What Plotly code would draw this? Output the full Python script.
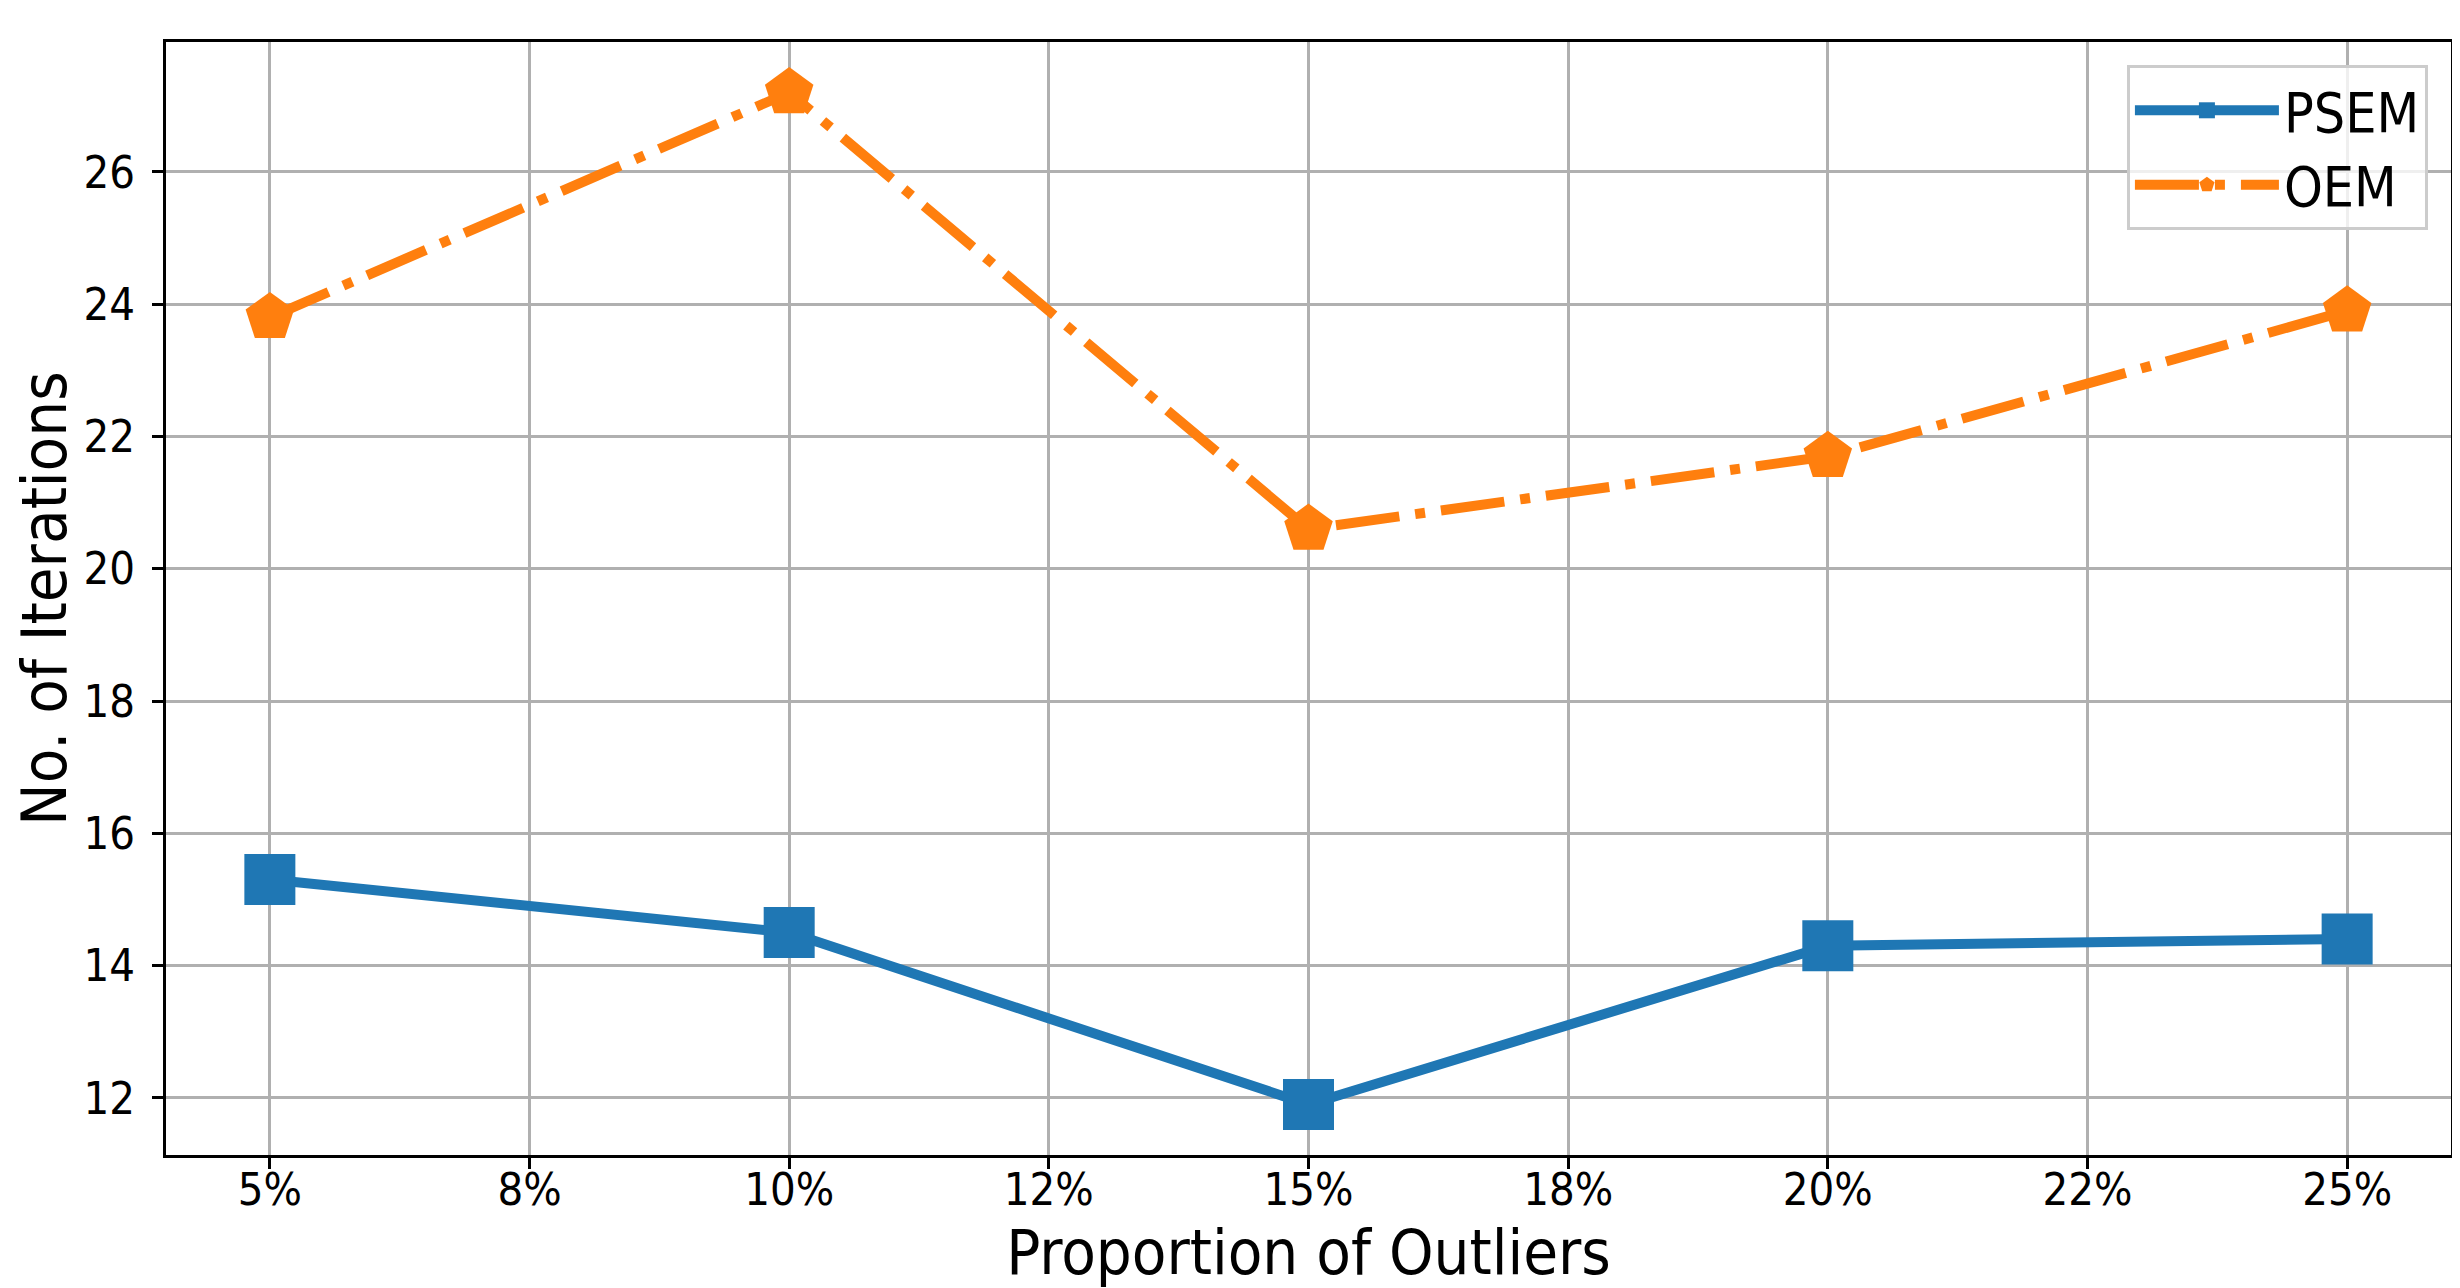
import plotly.graph_objects as go

# Data
proportions = [5, 10, 15, 20, 25]          # % of outliers
psem_iters = [15.3, 14.5, 11.9, 14.3, 14.4]
oem_iters = [23.8, 27.2, 20.6, 21.7, 23.9]

x_tickvals = [5, 7.5, 10, 12.5, 15, 17.5, 20, 22.5, 25]
x_ticktext = ["5%", "8%", "10%", "12%", "15%", "18%", "20%", "22%", "25%"]
y_tickvals = [12, 14, 16, 18, 20, 22, 24, 26]

FONT = "DejaVu Sans Condensed, DejaVu Sans, sans-serif"
BLUE = "#1f77b4"
ORANGE = "#ff7f0e"

fig = go.Figure()
fig.add_trace(go.Scatter(
    x=proportions, y=psem_iters, name="PSEM", mode="lines+markers",
    line=dict(color=BLUE, width=10),
    marker=dict(symbol="square", size=51, color=BLUE),
))
fig.add_trace(go.Scatter(
    x=proportions, y=oem_iters, name="OEM", mode="lines+markers",
    line=dict(color=ORANGE, width=10, dash="64px,16px,10px,16px"),
    marker=dict(symbol="pentagon", size=51, color=ORANGE),
))

axis_common = dict(
    showline=True, linecolor="black", linewidth=3, mirror=True,
    ticks="outside", ticklen=11, tickwidth=3, tickcolor="black",
    showgrid=True, gridcolor="#b0b0b0", gridwidth=3,
    zeroline=False,
    tickfont=dict(family=FONT, size=45, color="black"),
)

fig.update_layout(
    width=2460, height=1288,
    margin=dict(l=158, r=17, t=34, b=141, autoexpand=False),
    paper_bgcolor="white", plot_bgcolor="white",
    font=dict(family=FONT, color="black"),
    showlegend=True,
    legend=dict(
        x=0.9899, y=0.9793, xanchor="right", yanchor="top",
        bgcolor="rgba(255,255,255,0.8)", bordercolor="#cccccc", borderwidth=3,
        font=dict(family=FONT, size=55, color="black"),
        itemwidth=144,
    ),
)
fig.update_xaxes(
    range=[4, 26], tickvals=x_tickvals, ticktext=x_ticktext,
    ticklabelstandoff=-18,
    title=dict(text="Proportion of Outliers", font=dict(family=FONT, size=63), standoff=6),
    **axis_common,
)
fig.update_yaxes(
    range=[11.135, 27.965], tickvals=y_tickvals,
    ticklabelstandoff=8,
    title=dict(text="No. of Iterations", font=dict(family=FONT, size=63), standoff=12),
    **axis_common,
)

fig.write_html("out.html")
